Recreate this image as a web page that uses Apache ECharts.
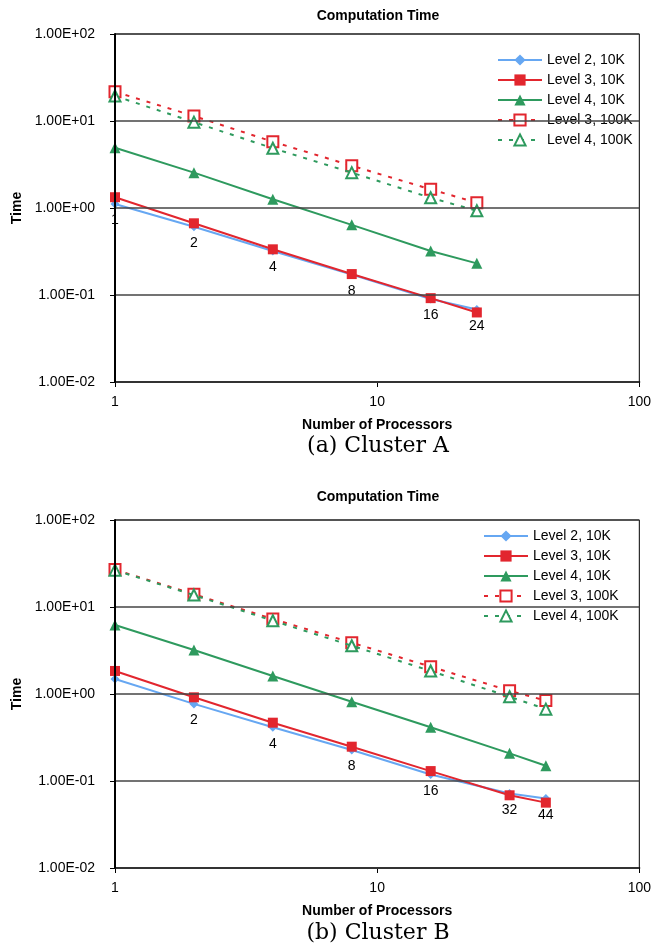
<!DOCTYPE html>
<html>
<head>
<meta charset="utf-8">
<script src="https://cdn.jsdelivr.net/npm/echarts@6/dist/echarts.min.js"></script>
<style>
  html, body { margin: 0; padding: 0; background: #fff; }
  .chart { width: 654px; height: 472px; }
</style>
</head>
<body>
<div class="chart" id="cluster-a"></div>
<div class="chart" id="cluster-b"></div>
<script>
// processors on the x axis
const procsA = [1, 2, 4, 8, 16, 24];
const procsB = [1, 2, 4, 8, 16, 32, 44];

// Cluster A timings
const l2Small_A = [1.11, 0.61, 0.32, 0.172, 0.090, 0.068];
const l3Small_A = [1.33, 0.667, 0.335, 0.174, 0.092, 0.063];
const l4Small_A = [4.93, 2.55, 1.26, 0.64, 0.32, 0.231];
const l3Big_A = [21.7, 11.4, 5.78, 3.06, 1.64, 1.15];
const l4Big_A = [19.4, 9.7, 4.86, 2.55, 1.31, 0.93];

// Cluster B timings
const l2Small_B = [1.49, 0.77, 0.414, 0.227, 0.119, 0.072, 0.063];
const l3Small_B = [1.84, 0.916, 0.468, 0.248, 0.130, 0.0685, 0.0564];
const l4Small_B = [6.2, 3.2, 1.61, 0.816, 0.414, 0.208, 0.15];
const l3Big_B = [26.9, 14.0, 7.28, 3.89, 2.06, 1.09, 0.84];
const l4Big_B = [26.5, 13.7, 6.96, 3.59, 1.84, 0.93, 0.67];

const seriesNames = ['Level 2, 10K', 'Level 3, 10K', 'Level 4, 10K', 'Level 3, 100K', 'Level 4, 100K'];
const chartTitle = 'Computation Time';
const xTitle = 'Number of Processors';
const yTitle = 'Time';

const BLUE = '#66a7f2';
const RED = '#e2262e';
const GREEN = '#2e9a5e';
const FONT = '"Liberation Sans", Arial, sans-serif';

function sci(v) {
    var e = Math.round(Math.log10(v));
    var s = Math.abs(e) < 10 ? '0' + Math.abs(e) : '' + Math.abs(e);
    return '1.00E' + (e < 0 ? '-' : '+') + s;
}

function makeOption(procs, sets, cfg) {
    const looks = [
        { color: BLUE, symbol: 'diamond', size: 9, dash: 'solid' },
        { color: RED, symbol: 'rect', size: 10, dash: 'solid' },
        { color: GREEN, symbol: 'triangle', size: 11, dash: 'solid' },
        { color: RED, symbol: 'emptyRect', size: 11, dash: [4, 7] },
        { color: GREEN, symbol: 'emptyTriangle', size: 11, dash: [4, 7] }
    ];
    const series = sets.map(function (vals, i) {
        return {
            name: seriesNames[i],
            type: 'line',
            symbol: looks[i].symbol,
            symbolSize: looks[i].size,
            color: looks[i].color,
            lineStyle: { width: 2, type: looks[i].dash, color: looks[i].color },
            itemStyle: { color: looks[i].color, borderWidth: 1.5 },
            z: 2 + i,
            data: procs.map(function (p, k) {
                var d = { value: [p, vals[k]] };
                if (i === 0) {
                    d.label = {
                        show: k > 0 || cfg.firstLabel,
                        position: 'bottom',
                        distance: 5,
                        formatter: String(p),
                        color: '#000',
                        fontSize: 14,
                        fontFamily: FONT
                    };
                }
                return d;
            })
        };
    });
    return {
        animation: false,
        graphic: [
            { type: 'text', x: 378, y: cfg.titleY, style: { text: chartTitle, textAlign: 'center', textVerticalAlign: 'middle', font: 'bold 14px ' + FONT, fill: '#000' } },
            { type: 'text', x: 378, y: cfg.capY, style: { text: cfg.caption, textAlign: 'center', textVerticalAlign: 'middle', font: '22px "DejaVu Serif", serif', fill: '#000' } }
        ],
        grid: {
            left: 115, top: cfg.gridTop, width: 527, height: 348,
            show: true, borderColor: '#000', borderWidth: 1, backgroundColor: '#fff'
        },
        legend: {
            orient: 'vertical',
            left: cfg.legendLeft,
            top: cfg.legendTop,
            itemWidth: 44,
            itemHeight: 14,
            itemGap: 6,
            textStyle: { fontSize: 14, color: '#000', fontFamily: FONT },
            data: seriesNames
        },
        xAxis: {
            type: 'log', logBase: 10, min: 1, max: 100,
            name: xTitle, nameLocation: 'middle', nameGap: 36,
            nameTextStyle: { fontWeight: 'bold', fontSize: 14, color: '#000', fontFamily: FONT },
            axisLine: { lineStyle: { color: '#000', width: 2 } },
            axisTick: { length: 5, lineStyle: { color: '#000' } },
            minorTick: { show: false },
            splitLine: { show: false },
            axisLabel: { margin: 13, fontSize: 14, color: '#000', fontFamily: FONT,
                formatter: function (v) { return String(Math.round(v)); } }
        },
        yAxis: {
            type: 'log', logBase: 10, min: 0.01, max: 100,
            z: 10,
            name: yTitle, nameLocation: 'middle', nameGap: 80, nameRotate: 90,
            nameTextStyle: { fontWeight: 'bold', fontSize: 14, color: '#000', fontFamily: FONT },
            axisLine: { show: true, onZero: false, lineStyle: { color: '#000', width: 2 } },
            axisTick: { show: true, length: 5, lineStyle: { color: '#000' } },
            splitLine: { show: true, lineStyle: { color: '#444', width: 1.5 } },
            axisLabel: { margin: 20, fontSize: 14, color: '#000', fontFamily: FONT, formatter: sci }
        },
        series: series
    };
}

var chartA = echarts.init(document.getElementById('cluster-a'));
chartA.setOption(makeOption(procsA, [l2Small_A, l3Small_A, l4Small_A, l3Big_A, l4Big_A], {
    titleY: 16, gridTop: 34, legendTop: 48, legendLeft: 492, capY: 446,
    caption: '(a) Cluster A', firstLabel: true
}));

var chartB = echarts.init(document.getElementById('cluster-b'));
chartB.setOption(makeOption(procsB, [l2Small_B, l3Small_B, l4Small_B, l3Big_B, l4Big_B], {
    titleY: 25, gridTop: 48, legendTop: 52, legendLeft: 478, capY: 461,
    caption: '(b) Cluster B', firstLabel: false
}));

window.addEventListener('resize', function () {
    chartA.resize();
    chartB.resize();
});
</script>
</body>
</html>
